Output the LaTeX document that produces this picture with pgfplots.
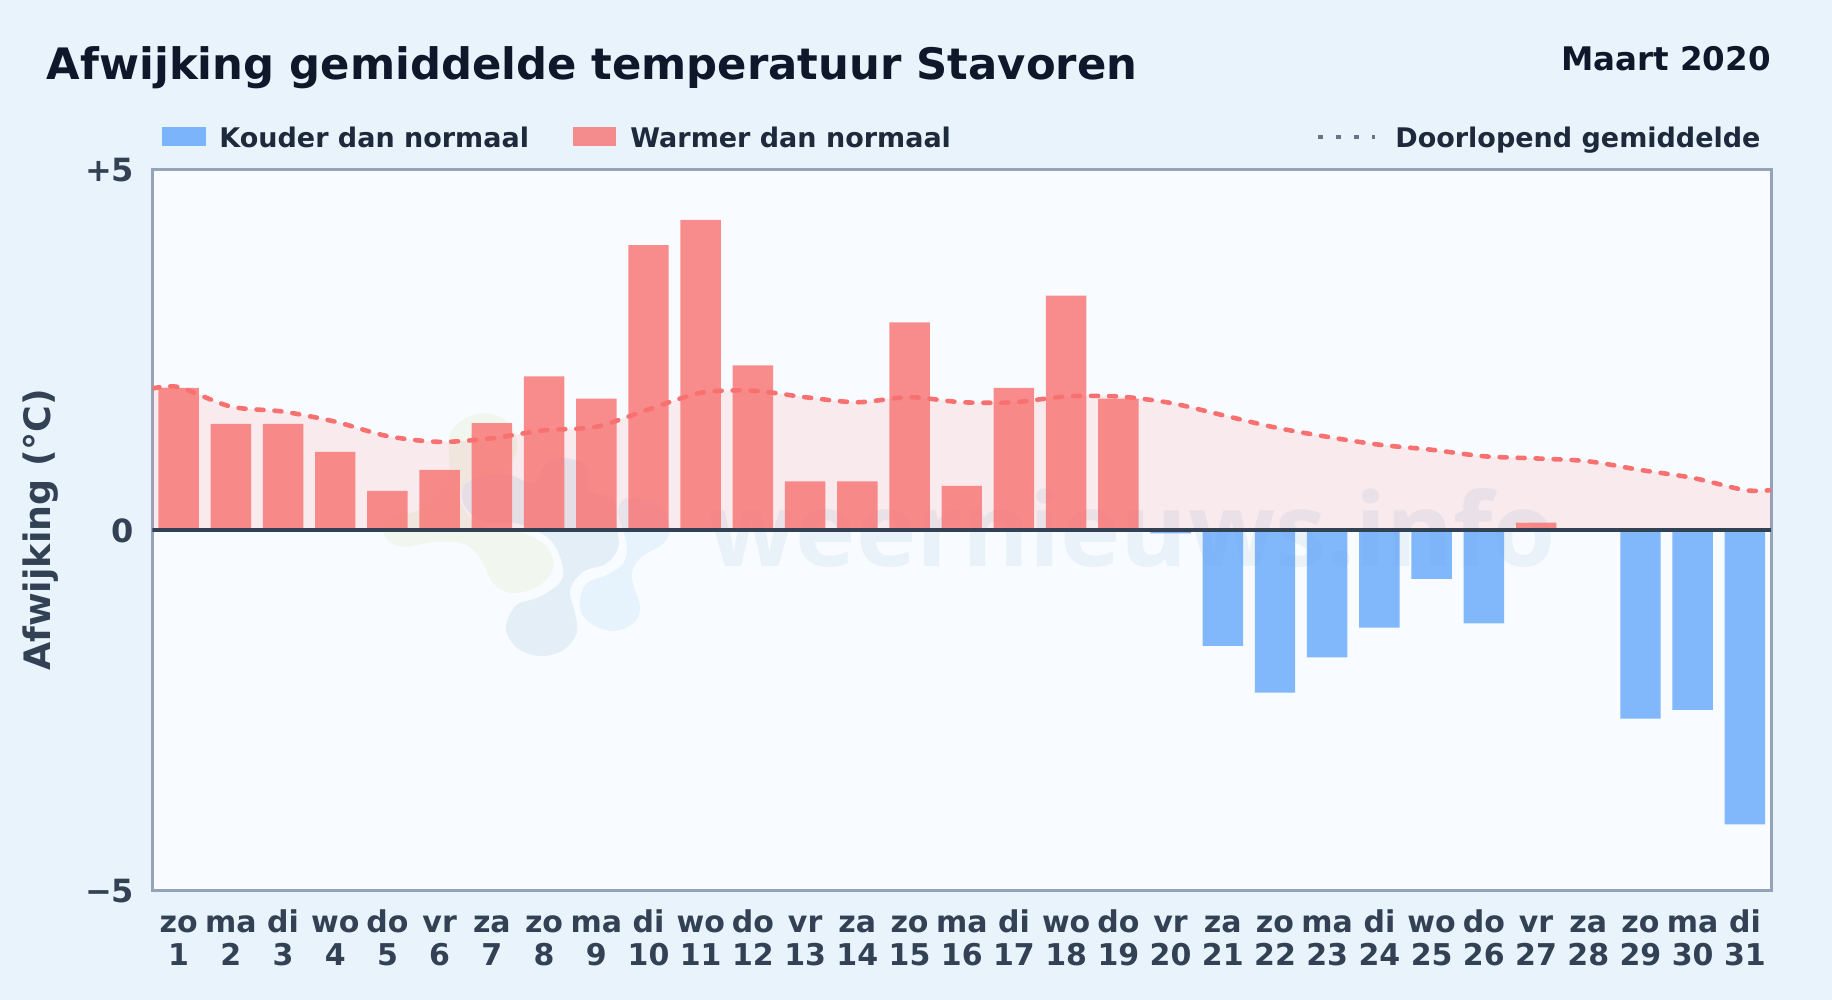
\documentclass[border=0pt]{standalone}
\usepackage{fontspec}
\setmainfont{DejaVu Sans}
\newfontfamily\wmfont{Open Sans}
\usepackage{pgfplots}
\pgfplotsset{compat=1.18}
\definecolor{bgc}{HTML}{E8F3FC}
\definecolor{panelc}{HTML}{F8FBFF}
\definecolor{titlec}{HTML}{0F172A}
\definecolor{legc}{HTML}{1E293B}
\definecolor{tickc}{HTML}{334155}
\definecolor{borderc}{HTML}{94A3B8}
\definecolor{bluec}{HTML}{60A5FA}
\definecolor{redc}{HTML}{F87171}
\definecolor{dotc}{HTML}{64748B}
\definecolor{wmtext}{HTML}{E9F1F9}
\definecolor{wmgray}{HTML}{E4EEF7}
\definecolor{wmlight}{HTML}{E6F3FD}
\definecolor{wmgreen}{HTML}{F1F7EE}
\newcommand{\fs}[1]{\fontsize{#1}{#1}\selectfont}
\newcommand{\tl}[2]{\rule{0pt}{12pt}#1\\#2}
\pgfplotstableread{
x y
1 1.97
2 1.47
3 1.47
4 1.08
5 0.54
6 0.83
7 1.48
8 2.13
9 1.82
10 3.95
11 4.30
12 2.28
13 0.67
14 0.67
15 2.88
16 0.61
17 1.97
18 3.25
19 1.82
27 0.10
}\warmer
\pgfplotstableread{
x y
20 -0.05
21 -1.61
22 -2.26
23 -1.77
24 -1.36
25 -0.68
26 -1.30
29 -2.62
30 -2.50
31 -4.09
}\kouder
\pgfplotstableread{
x y
0.5 1.96
1 1.98
2 1.71
3 1.64
4 1.50
5 1.30
6 1.22
7 1.27
8 1.38
9 1.43
10 1.67
11 1.90
12 1.93
13 1.84
14 1.77
15 1.84
16 1.77
17 1.77
18 1.85
19 1.85
20 1.76
21 1.59
22 1.42
23 1.29
24 1.18
25 1.11
26 1.02
27 0.99
28 0.95
29 0.83
30 0.72
31 0.55
31.5 0.55
}\running
\begin{document}
\begin{tikzpicture}[x=0.5pt,y=-0.5pt]
\fill[bgc] (0,0) rectangle (1832,1000);
\fill[panelc] (152.5,169.5) rectangle (1771,890);
% watermark logo (zoom coordinates: x=370+X/3, y=400+Y/3)
\begin{scope}[shift={(370,400)},x=0.16667pt,y=-0.16667pt]
\fill[wmgreen] plot[smooth cycle,tension=0.6] coordinates {(240,100)(295,50)(365,42)(425,80)(440,150)(400,215)(310,230)(270,290)(300,350)(350,385)(460,400)(530,440)(550,500)(510,555)(430,580)(370,550)(340,490)(290,435)(200,425)(100,440)(45,410)(60,350)(150,330)(230,260)(238,170)};
\fill[wmgray] plot[smooth cycle,tension=0.6] coordinates {(410,670)(440,615)(510,590)(575,540)(570,470)(530,410)(440,370)(340,365)(285,320)(280,260)(340,225)(420,225)(490,250)(530,190)(590,175)(650,200)(660,270)(730,300)(740,380)(745,440)(710,490)(640,515)(600,570)(615,640)(620,700)(580,750)(515,768)(450,750)(415,710)};
\fill[wmlight] plot[smooth cycle,tension=0.6] coordinates {(630,600)(650,550)(710,525)(760,490)(770,430)(745,340)(770,295)(860,310)(900,380)(880,430)(810,475)(785,530)(810,620)(790,670)(730,693)(670,675)(635,640)};
\end{scope}
\node[anchor=base west,inner sep=0pt,text=wmtext] at (708,566) {\wmfont\bfseries\fontsize{51}{51}\selectfont weernieuws.info};
% title
\node[anchor=base west,inner sep=0pt,text=titlec] at (46.5,80) {\fs{21.66}\bfseries Afwijking gemiddelde temperatuur Stavoren};
\node[anchor=base east,inner sep=0pt,text=titlec] at (1771,70.5) {\fs{16.25}\bfseries Maart 2020};
% legend
\fill[bluec,fill opacity=0.8] (162,127) rectangle (206,146);
\node[anchor=base west,inner sep=0pt,text=legc] at (219,147.5) {\fs{13.5}\bfseries Kouder dan normaal};
\fill[redc,fill opacity=0.8] (573,127) rectangle (616,146);
\node[anchor=base west,inner sep=0pt,text=legc] at (630,147.5) {\fs{13.5}\bfseries Warmer dan normaal};
\draw[dotc,line width=2.4pt,dash pattern=on 2.6pt off 6.5pt] (1317.5,137) -- (1375,137);
\node[anchor=base west,inner sep=0pt,text=legc] at (1395,147.5) {\fs{13.5}\bfseries Doorlopend gemiddelde};
\begin{axis}[
  at={(76.25pt,-445pt)},anchor=south west,
  scale only axis,width=809.25pt,height=360.25pt,
  xmin=0.5,xmax=31.5,ymin=-5,ymax=5,
  axis line style={draw=borderc,line width=1.5pt},
  major tick length=0pt,
  xtick={1,...,31},
  ytick={-5,0,5},
  yticklabels={−5,0,+5},
  xticklabels={\tl{zo}{1},\tl{ma}{2},\tl{di}{3},\tl{wo}{4},\tl{do}{5},\tl{vr}{6},\tl{za}{7},\tl{zo}{8},\tl{ma}{9},\tl{di}{10},\tl{wo}{11},\tl{do}{12},\tl{vr}{13},\tl{za}{14},\tl{zo}{15},\tl{ma}{16},\tl{di}{17},\tl{wo}{18},\tl{do}{19},\tl{vr}{20},\tl{za}{21},\tl{zo}{22},\tl{ma}{23},\tl{di}{24},\tl{wo}{25},\tl{do}{26},\tl{vr}{27},\tl{za}{28},\tl{zo}{29},\tl{ma}{30},\tl{di}{31}},
  xticklabel style={align=center,font=\fontsize{15}{16.5}\selectfont\bfseries,text=tickc,inner sep=0pt,anchor=north,yshift=-9pt},
  yticklabel style={font=\fs{16}\bfseries,text=tickc,inner sep=0pt,anchor=east,xshift=-9pt,yshift=-0.5pt},
  ylabel={Afwijking (°C)},
  every axis y label/.style={at={(axis description cs:-0.069,0.5)},anchor=center,rotate=90,font=\fs{18.2}\bfseries,text=tickc},
]
\addplot[draw=none,fill=redc,fill opacity=0.12,smooth,forget plot] table {\running} \closedcycle;
\addplot[ybar,bar width=0.775,bar shift=0pt,draw=none,fill=redc,fill opacity=0.8] table {\warmer};
\addplot[ybar,bar width=0.775,bar shift=0pt,draw=none,fill=bluec,fill opacity=0.78] table {\kouder};
\addplot[redc,smooth,line width=2.3pt,line cap=round,dash pattern=on 3.5pt off 5.5pt] table {\running};
\addplot[tickc,line width=2pt] coordinates {(0.5,0)(31.5,0)};
\end{axis}
\end{tikzpicture}
\end{document}
